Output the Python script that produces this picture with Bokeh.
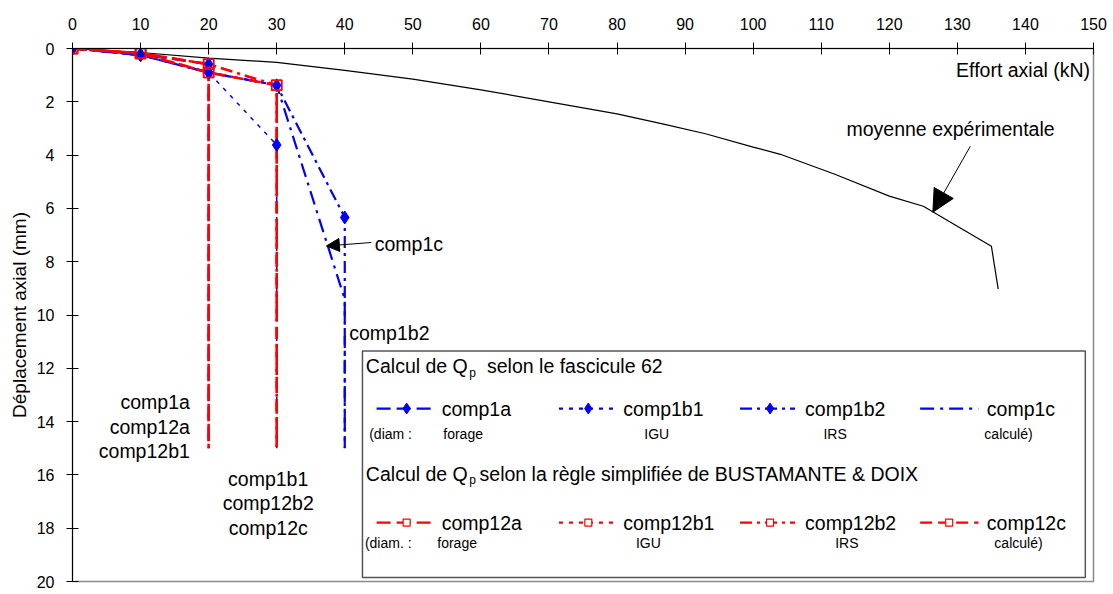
from bokeh.plotting import figure
from bokeh.models import Range1d, FixedTicker, Label, Arrow, NormalHead
from bokeh.embed import file_html
from bokeh.resources import INLINE

# ---------------- data ----------------
force_exp = [0, 10, 20, 30, 40, 50, 60, 70, 80, 87, 93, 100, 104, 110, 112, 120, 125, 130, 135, 136]
depl_exp = [0, 0.15, 0.36, 0.52, 0.82, 1.15, 1.55, 2.0, 2.45, 2.85, 3.2, 3.7, 3.97, 4.53, 4.72, 5.54, 5.92, 6.67, 7.42, 9.03]

comp1a_force = [0, 10, 20]
comp1a_depl = [0, 0.22, 0.59]
comp1b1_force = [0, 10, 20, 30]
comp1b1_depl = [0, 0.25, 0.90, 3.62]
comp1b2_force = [0, 10, 20, 30, 40]
comp1b2_depl = [0, 0.25, 0.90, 1.38, 6.34]
comp1c_force = [0, 10, 20, 30, 40]
comp1c_depl = [0, 0.25, 0.90, 1.38, 9.41]

comp12a_force = [0, 10, 20]
comp12a_depl = [0, 0.18, 0.59]
comp12b1_force = [0, 10, 20]
comp12b1_depl = [0, 0.20, 0.90]
comp12b2_force = [0, 10, 20, 30]
comp12b2_depl = [0, 0.18, 0.59, 1.38]
comp12c_force = [0, 10, 20, 30]
comp12c_depl = [0, 0.18, 0.90, 1.38]

depl_limit = 15.0

x_ticks = list(range(0, 151, 10))
y_ticks = list(range(0, 21, 2))

labels_20 = ["comp1a", "comp12a", "comp12b1"]
labels_30 = ["comp1b1", "comp12b2", "comp12c"]

FONT = "Liberation Sans"
BLUE = "#0000ff"
RED = "#ff0000"
MAIN = "19.5px"
SUB = "14px"

# ---------------- figure ----------------
p = figure(frame_width=1021, frame_height=533, min_border_left=72, min_border_top=48,
           min_border_right=19, min_border_bottom=12,
           x_range=Range1d(0, 150), y_range=Range1d(20, 0),
           x_axis_location="above", output_backend="svg", toolbar_location=None,
           background_fill_color="white", border_fill_color="white")
p.grid.visible = False
p.outline_line_color = "#8a8a8a"
p.outline_line_width = 1.5

for ax in (p.xaxis[0], p.yaxis[0]):
    ax.major_tick_in = 6
    ax.major_tick_out = 6
    ax.minor_tick_in = 0
    ax.minor_tick_out = 0
    ax.axis_line_color = "black"
    ax.major_tick_line_color = "black"
    ax.major_label_text_font = FONT
    ax.major_label_text_font_size = "16px"
    ax.major_label_text_color = "black"
p.xaxis[0].ticker = FixedTicker(ticks=x_ticks)
p.yaxis[0].ticker = FixedTicker(ticks=y_ticks)
p.xaxis[0].major_label_standoff = 13
p.yaxis[0].major_label_standoff = 12
p.yaxis[0].axis_label = "Déplacement axial (mm)"
p.yaxis[0].axis_label_text_font = FONT
p.yaxis[0].axis_label_text_font_size = "19px"
p.yaxis[0].axis_label_text_font_style = "normal"
p.yaxis[0].axis_label_text_color = "black"
p.yaxis[0].axis_label_standoff = 4

# experimental mean curve
p.line(force_exp, depl_exp, line_color="black", line_width=1.2)

blue_series = [
    (comp1a_force, comp1a_depl, "14 6", 2.2, True),
    (comp1b1_force, comp1b1_depl, "4 6", 1.5, True),
    (comp1b2_force, comp1b2_depl, "12 5 3 5", 2.2, True),
    (comp1c_force, comp1c_depl, "14 6 3 6", 2.2, False),
]
red_series = [
    (comp12a_force, comp12a_depl, "14 6", 2.6),
    (comp12b1_force, comp12b1_depl, "4 6", 2.6),
    (comp12b2_force, comp12b2_depl, "12 5 3 5", 2.6),
    (comp12c_force, comp12c_depl, "12 6", 2.6),
]

for f, d, dash, w, mk in blue_series:
    p.line(f + [f[-1]], d + [depl_limit], line_color=BLUE, line_width=w, line_dash=dash)
for f, d, dash, w in red_series:
    p.line(f + [f[-1]], d + [depl_limit], line_color=RED, line_width=w, line_dash=dash)
for f, d, dash, w, mk in blue_series:
    if mk:
        p.scatter(f, d, marker="diamond", size=13, fill_color=BLUE, line_color=BLUE)
for f, d, dash, w in red_series:
    p.scatter(f, d, marker="square", size=10, fill_color=None, line_color=RED, line_width=1.5)


def label(x, y, text, size=MAIN, align="left", baseline="middle"):
    p.add_layout(Label(x=x, y=y, text=text, text_font=FONT, text_font_size=size,
                       text_align=align, text_baseline=baseline, text_color="black"))


# annotations
label(149.5, 0.8, "Effort axial (kN)", align="right")
label(129.0, 3.03, "moyenne expérimentale", align="center")
p.add_layout(Arrow(end=NormalHead(size=22, fill_color="black", line_color="black"),
                   x_start=131.9, y_start=3.67, x_end=126.4, y_end=6.14,
                   line_color="black", line_width=1))
label(44.4, 7.34, "comp1c")
p.add_layout(Arrow(end=NormalHead(size=13, fill_color="black", line_color="black"),
                   x_start=43.9, y_start=7.28, x_end=37.3, y_end=7.41,
                   line_color="black", line_width=1))
label(40.66, 10.66, "comp1b2")
for i, t in enumerate(labels_20):
    label(17.24, 13.28 + i * 0.91, t, align="right")
for i, t in enumerate(labels_30):
    label(28.75, 16.16 + i * 0.91, t, align="center")

# ---------------- custom legend box ----------------
p.quad(left=[42.6], right=[148.8], top=[11.35], bottom=[19.85],
       fill_color="white", line_color="#555555", line_width=1.5)

label(43.1, 11.91, "Calcul de Q")
label(58.3, 12.17, "p", size="12px")
label(60.9, 11.91, "selon le fascicule 62")
label(43.1, 15.97, "Calcul de Q")
label(58.3, 16.2, "p", size="12px")
label(59.8, 15.97, "selon la règle simplifiée de BUSTAMANTE & DOIX")

leg_cols = [(44.68, 52.62, 49.09, 54.23), (71.47, 80.19, 75.78, 80.92),
            (98.07, 106.15, 102.48, 107.63), (124.53, 133.1, 128.8, 134.33)]
leg_names_1 = ["comp1a", "comp1b1", "comp1b2", "comp1c"]
leg_names_2 = ["comp12a", "comp12b1", "comp12b2", "comp12c"]
row1_y, row2_y = 13.51, 17.79
for (x0, x1, xm, xt), name, (f, d, dash, w, mk) in zip(leg_cols, leg_names_1, blue_series):
    p.line([x0, x1], [row1_y, row1_y], line_color=BLUE, line_width=2.2, line_dash=dash)
    if mk:
        p.scatter([xm], [row1_y], marker="diamond", size=11, fill_color=BLUE, line_color=BLUE)
    label(xt, row1_y, name)
for (x0, x1, xm, xt), name, (f, d, dash, w) in zip(leg_cols, leg_names_2, red_series):
    p.line([x0, x1], [row2_y, row2_y], line_color=RED, line_width=2.2, line_dash=dash)
    p.scatter([xm], [row2_y], marker="square", size=7, fill_color="white", line_color=RED, line_width=1.2)
    label(xt, row2_y, name)

label(43.59, 14.47, "(diam :", size=SUB)
label(54.47, 14.47, "forage", size=SUB)
label(85.83, 14.47, "IGU", size=SUB, align="center")
label(112.04, 14.47, "IRS", size=SUB, align="center")
label(137.51, 14.47, "calculé)", size=SUB, align="center")
label(42.96, 18.56, "(diam. :", size=SUB)
label(53.59, 18.56, "forage", size=SUB)
label(84.6, 18.56, "IGU", size=SUB, align="center")
label(113.76, 18.56, "IRS", size=SUB, align="center")
label(138.98, 18.56, "calculé)", size=SUB, align="center")

open("out.html", "w").write(file_html(p, INLINE))
